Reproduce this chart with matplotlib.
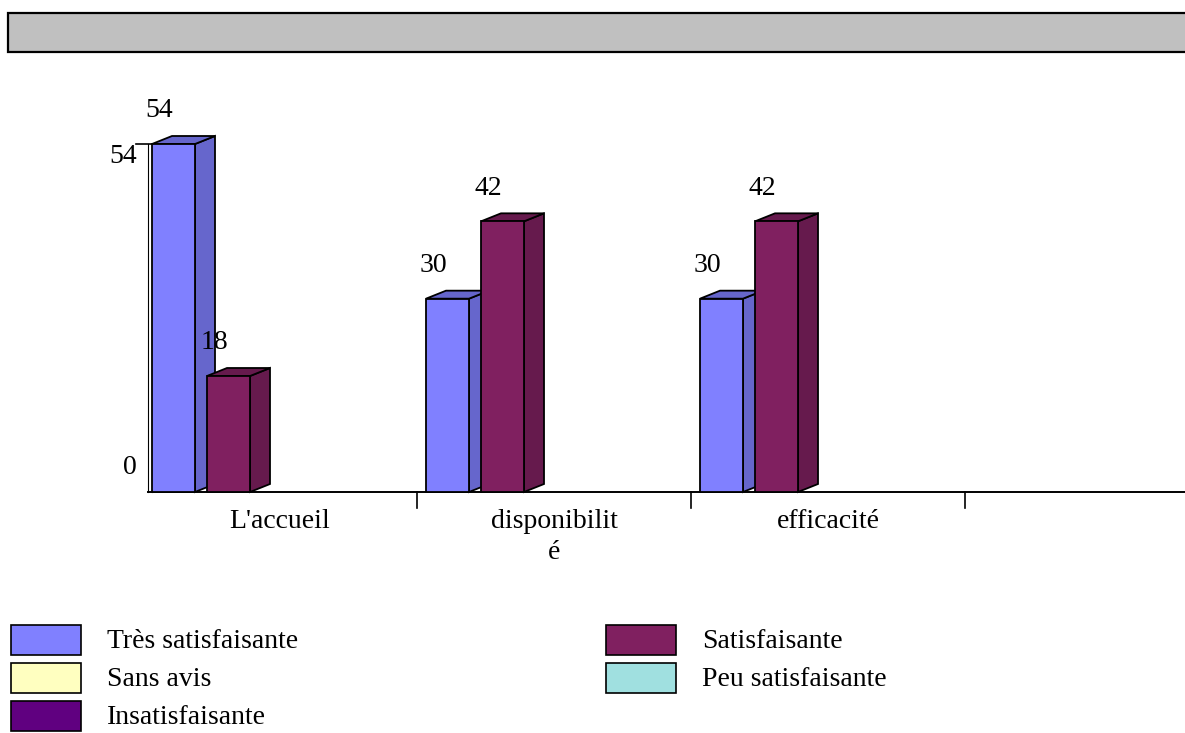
import matplotlib
matplotlib.use("Agg")
import matplotlib.pyplot as plt
from matplotlib.patches import Rectangle, Polygon
import matplotlib.transforms as mtransforms

# ---- data -------------------------------------------------------------
categories = ["L'accueil", "disponibilit\né", "efficacité", ""]
series_names = ["Très satisfaisante", "Satisfaisante", "Sans avis",
                "Peu satisfaisante", "Insatisfaisante"]
tres_satisfaisante = [54, 30, 30, 0]
satisfaisante = [18, 42, 42, 0]
sans_avis = [0, 0, 0, 0]
peu_satisfaisante = [0, 0, 0, 0]
insatisfaisante = [0, 0, 0, 0]
y_tick_values = [0, 54]

series_values = [tres_satisfaisante, satisfaisante, sans_avis,
                 peu_satisfaisante, insatisfaisante]
front_colors = ["#8080FF", "#802060", "#FFFFC0", "#A0E0E0", "#600080"]
shade_colors = ["#6666CC", "#661A4D", "#CCCC99", "#80B3B3", "#4C0066"]

# ---- figure setup -----------------------------------------------------
W, H = 1185, 733
DPI = 100
plt.rcParams["font.family"] = ["Liberation Serif", "DejaVu Serif"]
FS = 20

fig = plt.figure(figsize=(W / DPI, H / DPI), dpi=DPI)
fig.patch.set_facecolor("white")

# plot area geometry (pixels)
cat_w_px = 274.0
left_px = 143.0
base_px = 492.0
top_px = 100.0
px_per_unit = 348.0 / 54.0

ax = fig.add_axes([left_px / W, (H - base_px) / H,
                   (W - left_px) / W, (base_px - top_px) / H])
ax.set_xlim(0, (W - left_px) / cat_w_px)
ax.set_ylim(0, (base_px - top_px) / px_per_unit)
ax.axis("off")

# 3-D extrusion of the bars
dx = 20.0 / cat_w_px
dy = 8.0 / px_per_unit
bar_w = 43.0 / cat_w_px
first_off = 9.0 / cat_w_px
slot_step = 55.0 / cat_w_px
EDGE_LW = 1.3

# y-axis wall (double line) and top tick
wall_x = [5.0 / cat_w_px, 9.0 / cat_w_px]
ymax_tick = max(y_tick_values)
for wx in wall_x:
    ax.plot([wx, wx], [0, ymax_tick], color="black", lw=0.8, clip_on=False)
ax.plot([-7.0 / cat_w_px, 10.0 / cat_w_px], [ymax_tick, ymax_tick],
        color="black", lw=1.2, clip_on=False)

# baseline and category separators
ax.plot([wall_x[0], ax.get_xlim()[1]], [0, 0], color="black", lw=1.4,
        clip_on=False)
tick_len = 16.0 / px_per_unit
for i in range(1, len(categories)):
    ax.plot([i, i], [0, -tick_len], color="black", lw=1.2, clip_on=False)

# y tick labels
y_offsets_px = {0: -24, 54: 13}
for v in y_tick_values:
    tr = mtransforms.offset_copy(ax.transData, fig=fig, x=0,
                                 y=-y_offsets_px[v] * 72.0 / DPI,
                                 units="points")
    ax.text(-6.0 / cat_w_px, v, str(v), transform=tr, ha="right",
            va="center", fontsize=FS, clip_on=False)

# category labels
for i, name in enumerate(categories):
    if name:
        ax.text(i + 0.5, -17.0 / px_per_unit, name, ha="center", va="top",
                fontsize=FS, linespacing=1.3, multialignment="center",
                clip_on=False)


def bar3d(x0, v, face, shade):
    front = Rectangle((x0, 0), bar_w, v, facecolor=face, edgecolor="black",
                      lw=EDGE_LW, clip_on=False, zorder=3)
    side = Polygon([(x0 + bar_w, 0), (x0 + bar_w + dx, dy),
                    (x0 + bar_w + dx, v + dy), (x0 + bar_w, v)],
                   closed=True, facecolor=shade, edgecolor="black",
                   lw=EDGE_LW, clip_on=False, zorder=3, joinstyle="miter")
    top = Polygon([(x0, v), (x0 + dx, v + dy), (x0 + bar_w + dx, v + dy),
                   (x0 + bar_w, v)], closed=True, facecolor=shade,
                  edgecolor="black", lw=EDGE_LW, clip_on=False, zorder=3,
                  joinstyle="miter")
    for p in (side, top, front):
        ax.add_patch(p)


label_dx = -14.0 / cat_w_px
label_dy = 33.0 / px_per_unit
for ci in range(len(categories)):
    slot = 0
    for si, vals in enumerate(series_values):
        v = vals[ci]
        if v <= 0:
            continue
        x0 = ci + first_off + slot * slot_step
        bar3d(x0, v, front_colors[si], shade_colors[si])
        ax.text(x0 + bar_w / 2 + label_dx, v + label_dy, str(v),
                ha="center", va="center", fontsize=FS, clip_on=False,
                zorder=5)
        slot += 1

# ---- overlay in pixel coordinates: title bar and legend ---------------
ov = fig.add_axes([0, 0, 1, 1])
ov.set_xlim(0, W)
ov.set_ylim(H, 0)
ov.axis("off")
ov.patch.set_visible(False)

ov.add_patch(Rectangle((8, 13), W + 20, 39, facecolor="#C0C0C0",
                       edgecolor="black", lw=1.6, clip_on=False))

legend_cols_x = [11, 606]
legend_text_dx = 96
row_y = [640, 678, 716]
for k, name in enumerate(series_names):
    r, c = divmod(k, 2)
    bx = legend_cols_x[c]
    cy = row_y[r]
    ov.add_patch(Rectangle((bx, cy - 15), 70, 30,
                           facecolor=front_colors[k], edgecolor="black",
                           lw=1.2, clip_on=False))
    ov.text(bx + legend_text_dx, cy + 2, name, ha="left", va="center",
            fontsize=FS)

fig.savefig("out.png", dpi=DPI)
